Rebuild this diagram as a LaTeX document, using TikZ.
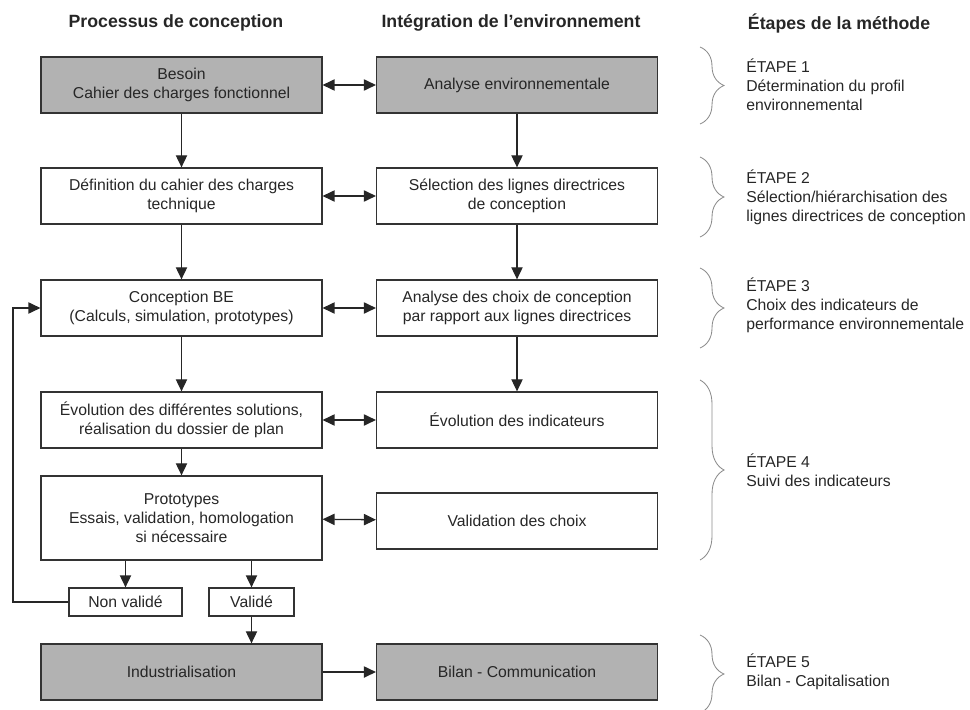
\documentclass[tikz,border=0pt]{standalone}
\usepackage{fontspec}
\setmainfont{Liberation Sans}
\usepackage{tikz}
\usetikzlibrary{arrows.meta,decorations.pathreplacing}

\tikzset{
  etape/.style={draw=black!80, line width=0.9pt, text=black!85, align=center,
    minimum width=7.02cm, minimum height=1.4cm, inner sep=2pt,
    font=\fontsize{11.2}{13.5}\selectfont},
  grise/.style={etape, fill=black!30},
  petit/.style={etape, minimum height=0.7cm},
  titre/.style={font=\fontsize{12.6}{15}\selectfont\bfseries, text=black!85},
  methode/.style={align=left, anchor=west, inner sep=0pt, text=black!85,
    font=\fontsize{11.2}{13.5}\selectfont},
  fleche/.style={draw=black!85, line width=0.9pt, -{Triangle[length=0.3cm,width=0.28cm]}},
  double/.style={fleche, {Triangle[length=0.3cm,width=0.28cm]}-{Triangle[length=0.3cm,width=0.28cm]}},
  accolade/.style={draw=black!45, line width=0.6pt,
    decorate, decoration={brace, amplitude=0.6cm}}
}

\begin{document}
\begin{tikzpicture}[x=0.025cm, y=-0.025cm]
\useasboundingbox (0,0) rectangle (970,709);

% titres des colonnes
\node[titre] (t1) at (176,23) {Processus de conception};
\node[titre] (t2) at (511,23) {Intégration de l’environnement};
\node[titre, anchor=west] (t3) at (743,23) {Étapes de la méthode};

% processus de conception
\node[grise] (besoin) at (181.5,85) {Besoin\\Cahier des charges fonctionnel};
\node[etape] (cdct) at (181.5,196) {Définition du cahier des charges\\technique};
\node[etape] (cbe) at (181.5,308) {Conception BE\\(Calculs, simulation, prototypes)};
\node[etape] (evol) at (181.5,420) {Évolution des différentes solutions,\\réalisation du dossier de plan};
\node[etape, minimum height=2.1cm] (proto) at (181.5,518) {Prototypes\\Essais, validation, homologation\\si nécessaire};
\node[petit, minimum width=2.82cm] (nonval) at (125.5,602) {Non validé};
\node[petit, minimum width=2.12cm] (valide) at (251.5,602) {Validé};
\node[grise] (indus) at (181.5,672) {Industrialisation};

% integration de l'environnement
\node[grise] (analyse) at (517,85) {Analyse environnementale};
\node[etape] (select) at (517,196) {Sélection des lignes directrices\\de conception};
\node[etape] (choix) at (517,308) {Analyse des choix de conception\\par rapport aux lignes directrices};
\node[etape] (indic) at (517,420) {Évolution des indicateurs};
\node[etape] (valchoix) at (517,521) {Validation des choix};
\node[grise] (bilan) at (517,672) {Bilan - Communication};

% fleches
\draw[fleche] (besoin) -- (cdct);
\draw[fleche] (cdct) -- (cbe);
\draw[fleche] (cbe) -- (evol);
\draw[fleche] (evol) -- (proto);
\draw[fleche] (proto.south -| nonval) -- (nonval);
\draw[fleche] (proto.south -| valide) -- (valide);
\draw[fleche] (valide) -- (valide |- indus.north);
\draw[fleche] (nonval.west) -- (13,602) -- (13,308) -- (cbe.west);
\draw[fleche] (analyse) -- (select);
\draw[fleche] (select) -- (choix);
\draw[fleche] (choix) -- (indic);
\draw[double] (besoin) -- (analyse);
\draw[double] (cdct) -- (select);
\draw[double] (cbe) -- (choix);
\draw[double] (evol) -- (indic);
\draw[double] (proto) -- (valchoix);
\draw[fleche] (indus) -- (bilan);

% etapes de la methode
\draw[accolade] (700,47) -- (700,124);
\draw[accolade] (700,157) -- (700,237);
\draw[accolade] (700,268) -- (700,348);
\draw[accolade] (700,380) -- (700,560);
\draw[accolade] (700,635) -- (700,713);
\node[methode] (e1) at (746,85) {ÉTAPE 1\\Détermination du profil\\environnemental};
\node[methode] (e2) at (746,197) {ÉTAPE 2\\Sélection/hiérarchisation des\\lignes directrices de conception};
\node[methode] (e3) at (746,305) {ÉTAPE 3\\Choix des indicateurs de\\performance environnementale};
\node[methode] (e4) at (746,470) {ÉTAPE 4\\Suivi des indicateurs};
\node[methode] (e5) at (746,672) {ÉTAPE 5\\Bilan - Capitalisation};
\end{tikzpicture}
\end{document}
